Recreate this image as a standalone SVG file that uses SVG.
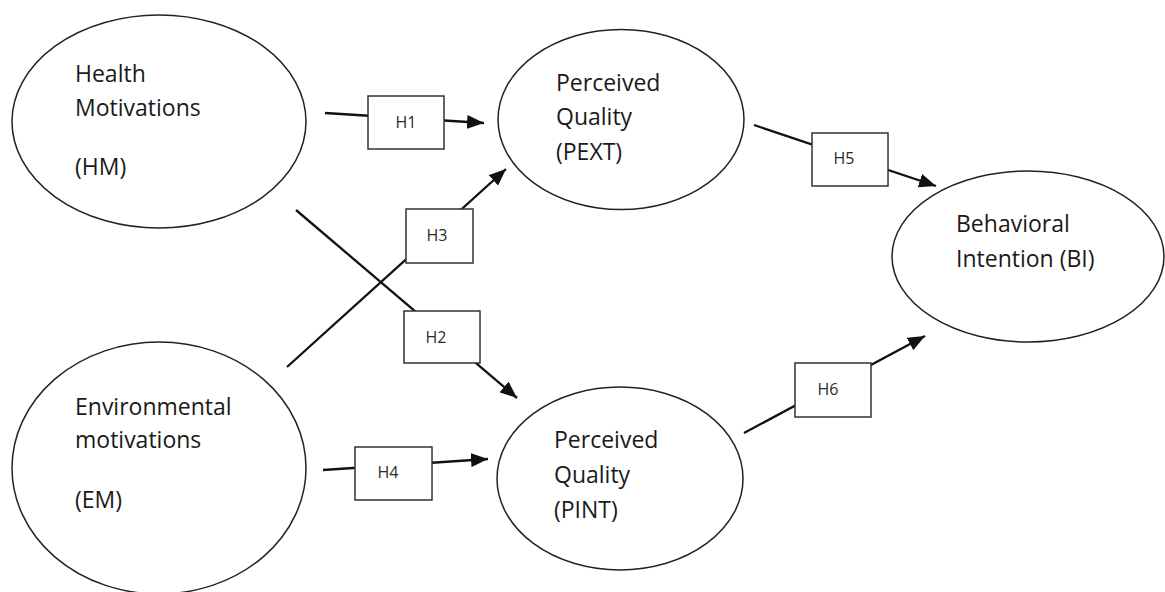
<svg xmlns="http://www.w3.org/2000/svg" width="1165" height="592" viewBox="0 0 1165 592">
<defs>
<marker id="arr" markerUnits="userSpaceOnUse" markerWidth="18" markerHeight="14" refX="17" refY="7" orient="auto">
<path d="M0,0 L17,7 L0,14 z" fill="#111"/>
</marker>
<style>
.node ellipse{fill:#fff;stroke:#222;stroke-width:1.5}
.node text{font-family:"Open Sans","Liberation Sans",sans-serif;font-size:23px;fill:#1a1a1a}
.conn line{stroke:#111;stroke-width:2.3;fill:none}
.lbl rect{fill:#fff;stroke:#333;stroke-width:1.5}
.lbl text{font-family:"Open Sans","Liberation Sans",sans-serif;font-size:16px;fill:#2a2a2a;text-anchor:middle}
</style>
</defs>
<rect width="1165" height="592" fill="#fff"/>
<g id="HM" class="node">
<ellipse cx="159" cy="121.5" rx="147" ry="106.5"/>
<text x="75" y="82">Health</text>
<text x="75" y="116">Motivations</text>
<text x="75" y="175">(HM)</text>
</g>
<g id="EM" class="node">
<ellipse cx="159" cy="468" rx="147" ry="126"/>
<text x="75" y="415">Environmental</text>
<text x="75" y="448">motivations</text>
<text x="75" y="508">(EM)</text>
</g>
<g id="PEXT" class="node">
<ellipse cx="621" cy="119.5" rx="123" ry="90"/>
<text x="556" y="91">Perceived</text>
<text x="556" y="125">Quality</text>
<text x="556" y="160">(PEXT)</text>
</g>
<g id="PINT" class="node">
<ellipse cx="620" cy="478.5" rx="123" ry="91.5"/>
<text x="554" y="448">Perceived</text>
<text x="554" y="483">Quality</text>
<text x="554" y="518">(PINT)</text>
</g>
<g id="BI" class="node">
<ellipse cx="1028" cy="256.5" rx="136" ry="85.5"/>
<text x="956" y="232">Behavioral</text>
<text x="956" y="267">Intention (BI)</text>
</g>
<g id="connectors" class="conn">
<line x1="325" y1="113" x2="484" y2="123" marker-end="url(#arr)"/>
<line x1="296" y1="210" x2="517" y2="398" marker-end="url(#arr)"/>
<line x1="287" y1="367" x2="506" y2="169" marker-end="url(#arr)"/>
<line x1="323" y1="470" x2="488" y2="459" marker-end="url(#arr)"/>
<line x1="754" y1="125" x2="936" y2="186" marker-end="url(#arr)"/>
<line x1="744" y1="433" x2="925" y2="336" marker-end="url(#arr)"/>
<g class="lbl">
<rect x="368" y="96" width="76" height="53"/><text x="406" y="128">H1</text>
<rect x="404" y="311" width="76" height="52"/><text x="436" y="343">H2</text>
<rect x="406" y="209" width="67" height="54"/><text x="437" y="241">H3</text>
<rect x="355" y="447" width="77" height="53"/><text x="388" y="478">H4</text>
<rect x="812" y="133" width="76" height="53"/><text x="844" y="164">H5</text>
<rect x="795" y="363" width="76" height="54"/><text x="828" y="395">H6</text>
</g>
</g>
</svg>
